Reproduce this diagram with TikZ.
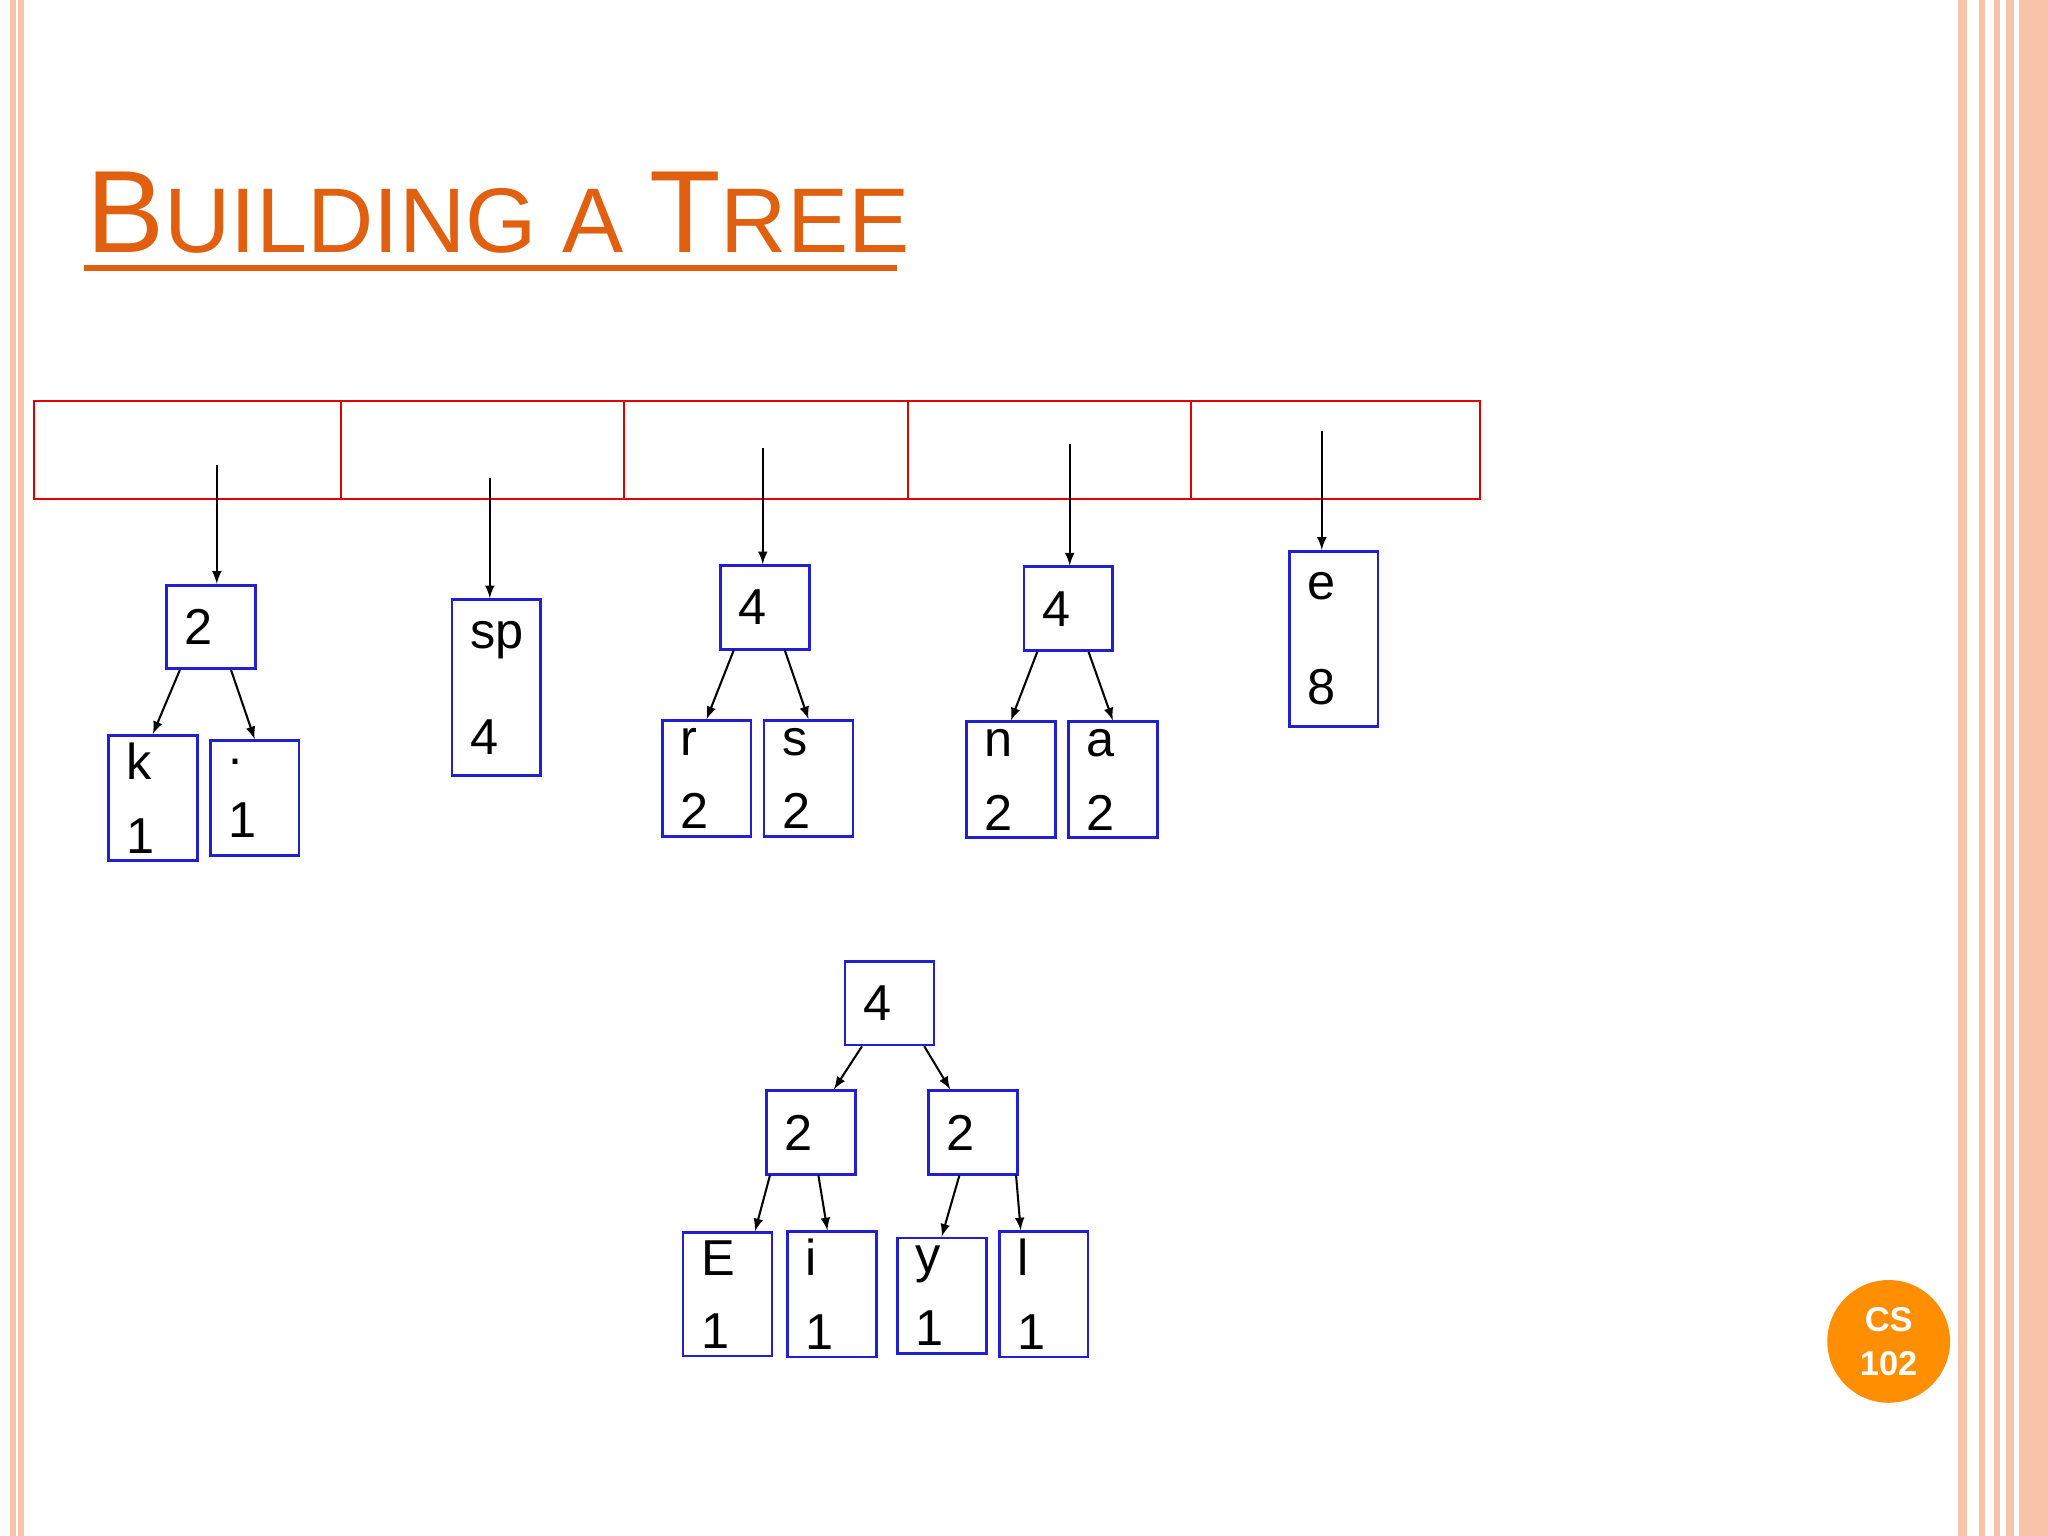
\documentclass[tikz,border=0pt]{standalone}
\usepackage{fontspec}
\setmainfont{Liberation Sans}
\usetikzlibrary{calc}
\definecolor{ttl}{HTML}{E0600F}
\definecolor{strp}{HTML}{F8C3A8}
\definecolor{bx}{HTML}{2020D0}
\tikzset{
  bx/.style={draw=bx,line width=1.2pt,minimum width=1.36cm,text width=0.8cm,inner xsep=0.28cm,align=left,font=\fontsize{22}{32}\selectfont},
  ar/.style={-latex,line width=0.9pt},
}
\begin{document}
\begin{tikzpicture}[x=0.02cm,y=-0.02cm]
\useasboundingbox (0,0) rectangle (1568,1176);
% stripes
\fill[strp] (8,0) rectangle (12,1176);
\fill[strp] (14,0) rectangle (18,1176);
\fill[strp] (1499,0) rectangle (1506,1176);
\fill[strp] (1515,0) rectangle (1520,1176);
\fill[strp] (1527,0) rectangle (1531,1176);
\fill[strp] (1536,0) rectangle (1568,1176);
\fill[white] (1542,0) rectangle (1546,1176);
% title
\node[anchor=base west,text=ttl,inner sep=0] (title) at (66,193) {\fontsize{51}{51}\selectfont B\fontsize{40}{40}\selectfont UILDING A \fontsize{51}{51}\selectfont T\fontsize{40}{40}\selectfont REE};
\draw[ttl,line width=2.5pt] (64,205) -- (687,205);
% table
\draw[red!90!black,line width=0.9pt] (26,307) rectangle (1133,382);
\foreach \x in {261,478,695,912} \draw[red!90!black,line width=0.9pt] (\x,307) -- (\x,382);
% boxes
\node[bx,minimum height=1.28cm] (a) at (161.5,480) {2};
\node[bx,minimum height=1.76cm] (k) at (117,611) {k\\1};
\node[bx,minimum height=1.76cm] (d) at (195,611) {.\\1};
\node[bx,minimum height=2.7cm,font=\fontsize{22}{46}\selectfont] (sp) at (380,526.5) {sp\\4};
\node[bx,minimum height=1.28cm] (b) at (585.5,465) {4};
\node[bx,minimum height=1.76cm] (r) at (541,596) {r\\2};
\node[bx,minimum height=1.76cm] (s) at (619,596) {s\\2};
\node[bx,minimum height=1.28cm] (c) at (818,466) {4};
\node[bx,minimum height=1.76cm] (n) at (774,597) {n\\2};
\node[bx,minimum height=1.76cm] (aa) at (852,597) {a\\2};
\node[bx,minimum height=2.68cm,font=\fontsize{22}{46}\selectfont] (e) at (1021,489) {e\\8};
\coordinate (t1) at (166,356);
\coordinate (t2) at (375,366);
\coordinate (t3) at (584,343);
\coordinate (t4) at (819,340);
\coordinate (t5) at (1012,330);
\draw[ar] (t1) -- (t1 |- a.north);
\draw[ar] (t2) -- (t2 |- sp.north);
\draw[ar] (t3) -- (t3 |- b.north);
\draw[ar] (t4) -- (t4 |- c.north);
\draw[ar] (t5) -- (t5 |- e.north);
\foreach \p/\l/\r in {a/k/d,b/r/s,c/n/aa}{
  \draw[ar] ($(\p.south west)!0.16!(\p.south east)$) -- (\l.north);
  \draw[ar] ($(\p.south west)!0.72!(\p.south east)$) -- (\r.north);
}
% bottom tree
\node[bx,minimum height=1.28cm] (r0) at (681,768) {4};
\node[bx,minimum height=1.28cm] (r1) at (621,867) {2};
\node[bx,minimum height=1.28cm] (r2) at (745,867) {2};
\node[bx,minimum height=1.76cm] (E) at (557,991) {E\\1};
\node[bx,minimum height=1.76cm] (i) at (637,991) {i\\1};
\node[bx,minimum height=1.76cm] (y) at (721,992) {y\\1};
\node[bx,minimum height=1.76cm] (l) at (799,991) {l\\1};
\draw[ar] ($(r0.south west)!0.2!(r0.south east)$) -- ($(r1.north west)!0.75!(r1.north east)$);
\draw[ar] ($(r0.south west)!0.88!(r0.south east)$) -- ($(r2.north west)!0.25!(r2.north east)$);
\draw[ar] ($(r1.south west)!0.05!(r1.south east)$) -- ($(E.north west)!0.8!(E.north east)$);
\draw[ar] ($(r1.south west)!0.58!(r1.south east)$) -- ($(i.north west)!0.45!(i.north east)$);
\draw[ar] ($(r2.south west)!0.35!(r2.south east)$) -- ($(y.north west)!0.5!(y.north east)$);
\draw[ar] ($(r2.south west)!0.97!(r2.south east)$) -- ($(l.north west)!0.25!(l.north east)$);
% badge
\node[circle,fill=orange!90!red!80!yellow,minimum size=1.88cm,text=white,align=center,font=\bfseries\fontsize{15}{19}\selectfont] (cs) at (1446,1027) {CS\\102};
\end{tikzpicture}
\end{document}
